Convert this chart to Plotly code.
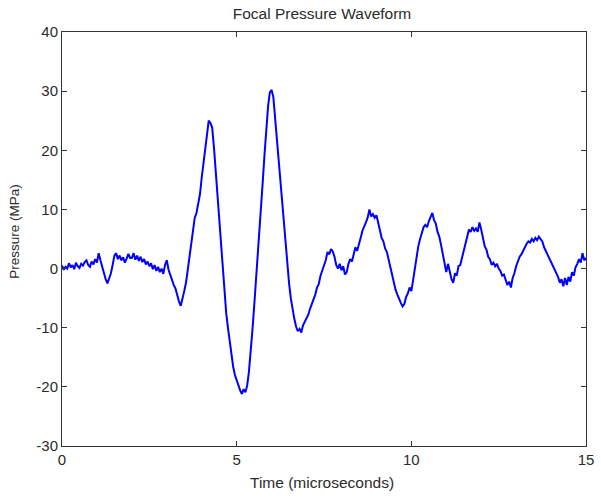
import plotly.graph_objects as go

# sample times (µs), 0.05 µs spacing
time_us = [round(i * 0.05, 2) for i in range(301)]
pressure_mpa = [
    0.5, -0.2, 0.3, 0.0, 0.9, 0.2, 0.6, -0.1, 1.0, 0.4, 0.1, 0.8, 0.5, 1.1, 1.4, 0.6, 0.3, 1.2, 0.7, 1.6,
    1.0, 2.6, 1.4, 0.2, -0.6, -1.8, -2.5, -1.8, -0.8, 0.6, 2.2, 2.6, 1.6, 2.2, 1.4, 1.9, 1.0, 1.7, 2.5, 1.8,
    1.8, 2.6, 1.5, 2.2, 1.3, 2.0, 1.1, 1.6, 0.7, 1.2, 0.4, 0.9, -0.1, 0.6, -0.4, 0.3, -0.6, 0.0, -0.9, 0.6,
    1.4, -0.2, -1.2, -1.8, -2.8, -3.4, -4.8, -5.6, -6.3, -5.2, -3.8, -2.4, -0.2, 2.0, 4.2, 6.5, 8.6, 9.4, 10.8, 12.6,
    15.4, 18.0, 20.6, 23.4, 25.0, 24.6, 23.8, 20.5, 16.5, 12.0, 7.5, 3.0, -1.0, -4.5, -7.5, -10.0, -12.5, -14.8, -16.6, -18.0,
    -19.0, -20.0, -20.6, -21.2, -20.4, -20.9, -19.8, -17.5, -14.5, -10.5, -6.5, -2.5, 1.5, 6.0, 10.5, 15.0, 19.5, 24.0, 27.5, 29.8,
    30.2, 29.0, 25.5, 21.5, 17.5, 14.0, 10.5, 7.0, 3.5, 0.5, -2.5, -5.0, -7.0, -8.5, -9.8, -10.6, -10.2, -10.8, -9.6, -9.0,
    -8.3, -7.8, -6.8, -6.0, -5.0, -4.4, -3.2, -2.6, -1.2, -0.4, 0.6, 1.4, 2.8, 2.4, 3.3, 2.9, 2.0, 0.6, 0.0, 0.8,
    -0.3, 0.4, -1.0, -0.6, 0.8, 1.6, 1.2, 2.6, 3.6, 3.0, 4.4, 5.2, 6.4, 7.0, 7.8, 8.6, 10.0, 8.8, 9.2, 8.6,
    9.0, 7.8, 6.4, 5.2, 4.6, 3.4, 2.8, 1.4, 0.2, -1.4, -2.8, -3.6, -4.4, -5.2, -5.8, -6.4, -6.0, -4.8, -4.2, -3.2,
    -3.8, -2.0, 0.0, 2.0, 3.8, 5.0, 6.0, 7.0, 7.4, 7.0, 8.0, 8.6, 9.4, 8.2, 7.6, 6.2, 5.4, 4.0, 2.6, 0.8,
    -0.6, 0.8, -0.4, -1.8, -2.4, -0.8, -1.2, 0.4, 0.6, 1.8, 3.4, 4.6, 5.8, 6.6, 6.2, 7.0, 6.4, 6.8, 6.2, 7.8,
    6.6, 5.2, 3.8, 3.2, 2.0, 1.6, 0.6, 1.0, 0.4, 0.8, 0.0, -0.4, -1.2, -1.0, -2.0, -2.8, -2.2, -3.2, -1.6, -0.8,
    0.4, 1.2, 2.0, 2.4, 3.0, 3.8, 4.2, 4.6, 4.4, 5.0, 4.6, 5.2, 4.8, 5.4, 5.0, 4.6, 3.6, 3.0, 2.2, 1.6,
    1.2, 0.4, 0.0, -0.8, -1.4, -2.4, -1.8, -3.0, -1.6, -2.8, -1.4, -2.2, -0.6, -1.2, 0.2, 0.8, 1.6, 1.0, 2.6, 1.4,
    1.8,
]

x_ticks = [0, 5, 10, 15]
x_tick_labels = ["0", "5", "10", "15"]
y_ticks = [-30, -20, -10, 0, 10, 20, 30, 40]
y_tick_labels = ["-30", "-20", "-10", "0", "10", "20", "30", "40"]

font = "Liberation Sans, Arial, sans-serif"
txt = "#2b2b2b"

fig = go.Figure()
fig.add_trace(go.Scatter(
    x=time_us, y=pressure_mpa, mode="lines",
    line=dict(color="#0000ff", width=2),
    showlegend=False, hoverinfo="skip",
))

axis_common = dict(
    showline=True, linecolor="#333333", linewidth=1, mirror="ticks",
    ticks="inside", ticklen=5, tickcolor="#333333",
    showgrid=False, zeroline=False,
    tickfont=dict(family=font, size=15, color=txt),
)

fig.update_layout(
    width=601, height=498,
    margin=dict(l=62, r=15, t=32, b=52, autoexpand=False),
    paper_bgcolor="white", plot_bgcolor="white",
    hovermode=False,
    title=dict(text="Focal Pressure Waveform", x=322 / 601, xanchor="center",
               y=1 - 14 / 498, yanchor="middle", yref="container",
               font=dict(family=font, size=15.5, color=txt)),
    xaxis=dict(range=[0, 15], tickvals=x_ticks, ticktext=x_tick_labels,
               **axis_common),
    yaxis=dict(range=[-30, 40], tickvals=y_ticks, ticktext=y_tick_labels,
               **axis_common),
    annotations=[
        dict(text="Time (microseconds)", xref="paper", yref="paper",
             x=0.496, y=-0.087, xanchor="center", yanchor="middle",
             showarrow=False, font=dict(family=font, size=15.5, color=txt)),
        dict(text="Pressure (MPa)", xref="paper", yref="paper",
             x=-0.0897, y=0.52, xanchor="center", yanchor="middle",
             textangle=-90, showarrow=False,
             font=dict(family=font, size=13.5, color=txt)),
    ],
)

fig.write_html("out.html", config={"displayModeBar": False},
               post_script="document.body.style.margin='0';")
